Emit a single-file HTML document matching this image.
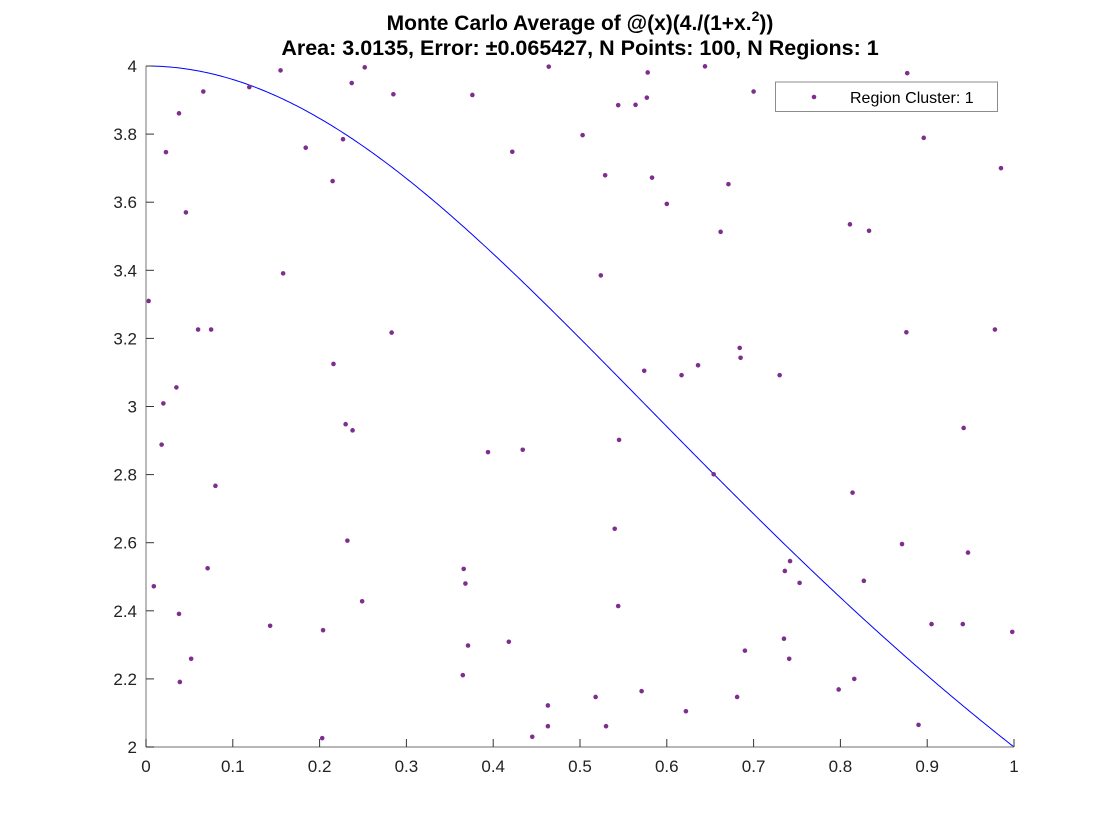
<!DOCTYPE html>
<html><head><meta charset="utf-8"><style>
html,body{margin:0;padding:0;background:#fff;}
svg{display:block;font-family:"Liberation Sans",Arial,sans-serif;}
</style></head><body>
<svg id="chart" width="1120" height="840" viewBox="0 0 1120 840">
<rect width="1120" height="840" fill="#fff"/>
<text x="580" y="30" text-anchor="middle" font-size="21" font-weight="bold" fill="#000">Monte Carlo Average of @(x)(4./(1+x.<tspan dy="-9" font-size="14">2</tspan><tspan dy="9">))</tspan></text>
<text x="580" y="55" text-anchor="middle" font-size="21.5" font-weight="bold" fill="#000">Area: 3.0135, Error: ±0.065427, N Points: 100, N Regions: 1</text>
<g id="plot"></g>
<g id="legend">
<rect x="775.5" y="82" width="222" height="29.5" fill="#fff" stroke="#8c8c8c" stroke-width="1"/>
<circle cx="814" cy="97" r="2.3" fill="#7E2F8E"/>
<text x="850" y="103" font-size="16" fill="#000">Region Cluster: 1</text>
</g>
</svg>
<script>
const xTicks = [0,0.1,0.2,0.3,0.4,0.5,0.6,0.7,0.8,0.9,1];
const xTickLabels = ["0","0.1","0.2","0.3","0.4","0.5","0.6","0.7","0.8","0.9","1"];
const yTicks = [2,2.2,2.4,2.6,2.8,3,3.2,3.4,3.6,3.8,4];
const yTickLabels = ["2","2.2","2.4","2.6","2.8","3","3.2","3.4","3.6","3.8","4"];
const pointsX = [.155,.252,.464,.237,.066,.119,.285,.376,.038,.023,.184,.227,.422,.215,.046,.158,.003,.060,.075,.283,.216,.035,.020,
.230,.238,.018,.394,.434,.080,.232,.071,.366,.009,.368,.249,.038,.143,.204,.418,.371,.052,.365,.039,.463,.463,.445,.203,
.578,.644,.877,.700,.544,.564,.577,.503,.896,.985,.529,.583,.671,.600,.662,.811,.833,.524,.876,.978,.684,.685,.574,.617,.636,.730,
.942,.545,.654,.814,.540,.871,.947,.742,.736,.753,.827,.544,.905,.941,.998,.735,.690,.741,.816,.798,.571,.518,.681,.622,.530,.890];
const pointsY = [3.987,3.996,3.998,3.950,3.925,3.938,3.917,3.915,3.861,3.747,3.760,3.785,3.748,3.662,3.570,3.391,3.310,3.226,3.226,3.217,3.125,3.056,3.009,
2.948,2.930,2.888,2.866,2.873,2.767,2.606,2.525,2.523,2.472,2.480,2.428,2.391,2.356,2.343,2.309,2.298,2.259,2.211,2.191,2.122,2.061,2.030,2.026,
3.981,3.999,3.979,3.925,3.885,3.886,3.907,3.797,3.789,3.700,3.679,3.672,3.653,3.595,3.513,3.535,3.516,3.385,3.218,3.226,3.172,3.143,3.105,3.092,3.121,3.092,
2.937,2.902,2.801,2.747,2.641,2.596,2.571,2.546,2.517,2.482,2.488,2.414,2.361,2.361,2.338,2.318,2.283,2.259,2.200,2.169,2.164,2.147,2.147,2.105,2.061,2.065];

const X0=146, X1=1014, Y0=747, Y1=66, xMin=0, xMax=1, yMin=2, yMax=4;
function sx(v){return X0+(v-xMin)/(xMax-xMin)*(X1-X0);}
function sy(v){return Y0-(v-yMin)/(yMax-yMin)*(Y0-Y1);}
const NS="http://www.w3.org/2000/svg";
const plot=document.getElementById('plot');
function mk(tag,attrs){const e=document.createElementNS(NS,tag);for(const k in attrs)e.setAttribute(k,attrs[k]);plot.appendChild(e);return e;}

let d="";
for(let i=0;i<=400;i++){const x=i/400;const y=4/(1+x*x);d+=(i?"L":"M")+sx(x).toFixed(2)+","+sy(y).toFixed(2);}
const curve=mk('path',{d:d,fill:"none",stroke:"#0000ff","stroke-width":"1"});



for(let i=0;i<pointsX.length;i++){
  const c=mk('circle',{cx:sx(pointsX[i]),cy:sy(pointsY[i]),r:2.3,fill:"#7E2F8E"});
  
  
}

const xa=mk('line',{x1:X0,y1:Y0,x2:X1,y2:Y0,stroke:"#8c8c8c","stroke-width":"1.2"});


const ya=mk('line',{x1:X0,y1:Y0,x2:X0,y2:Y1,stroke:"#8c8c8c","stroke-width":"1.2"});



xTicks.forEach((v,i)=>{
  const t=mk('line',{x1:sx(v),y1:Y0,x2:sx(v),y2:Y0-8,stroke:"#333","stroke-width":"1"});
  
  
  const l=mk('text',{x:sx(v),y:Y0+25,"text-anchor":"middle","font-size":"17",fill:"#222"});
  l.textContent=xTickLabels[i];
  
  
});
yTicks.forEach((v,i)=>{
  const t=mk('line',{x1:X0,y1:sy(v),x2:X0+8,y2:sy(v),stroke:"#333","stroke-width":"1"});
  
  
  const l=mk('text',{x:X0-9,y:sy(v)+6,"text-anchor":"end","font-size":"17",fill:"#222"});
  l.textContent=yTickLabels[i];
  
  
});
</script>
</body></html>
